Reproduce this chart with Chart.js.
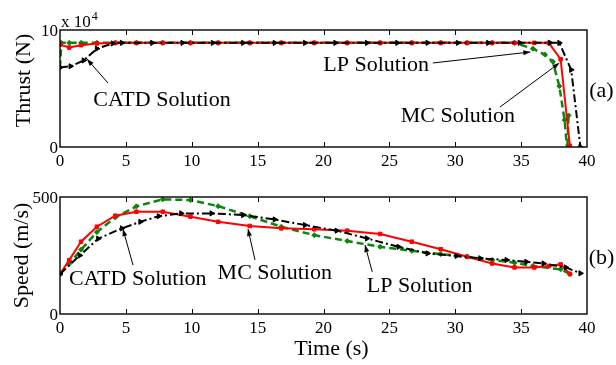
<!DOCTYPE html>
<html>
<head>
<meta charset="utf-8">
<script src="https://cdn.jsdelivr.net/npm/chart.js@4.4.1/dist/chart.umd.min.js"></script>
<style>
  html, body { margin: 0; padding: 0; background: #fff; }
  #wrap { position: relative; width: 616px; height: 365px; }
  canvas { position: absolute; left: 0; }
  #thrust { top: 0; }
  #speed { top: 180px; }
</style>
</head>
<body>
<div id="wrap">
  <canvas id="thrust" width="616" height="180"></canvas>
  <canvas id="speed" width="616" height="185"></canvas>
</div>
<script>
// data
const xTicks = [0, 5, 10, 15, 20, 25, 30, 35, 40];

// MC solution (red)
const mcThrustTime = [0, 0.7, 1.6, 2.8, 4.2, 5.8, 7.8, 9.9, 12.0, 14.4, 16.8, 19.3, 21.8, 24.3, 26.7, 28.9, 30.9, 32.8, 34.5, 36.0, 37.1, 38.0, 38.7];
const mcThrust = [8.75, 8.5, 8.7, 8.85, 8.9, 8.9, 8.9, 8.9, 8.9, 8.9, 8.9, 8.9, 8.9, 8.9, 8.9, 8.9, 8.9, 8.9, 8.9, 8.9, 8.9, 7.5, 0.1];
const mcSpeedTime = [0, 0.7, 1.6, 2.8, 4.2, 5.8, 7.8, 9.9, 12.0, 14.4, 16.8, 19.3, 21.8, 24.3, 26.7, 28.9, 30.9, 32.8, 34.5, 36.0, 37.1, 38.0, 38.7];
const mcSpeed = [171, 230, 309, 373, 420, 437, 437, 416, 394, 376, 366, 362, 356, 342, 309, 277, 245, 216, 199, 199, 205, 212, 171];

// LP solution (green)
const lpThrustTime = [0, 0.1, 0.7, 1.6, 2.8, 4.2, 5.8, 7.8, 9.9, 12.0, 14.4, 16.8, 19.3, 21.8, 24.3, 26.7, 28.9, 30.9, 32.8, 34.5, 35.9, 36.8, 37.4, 37.9, 38.3, 38.5, 38.6];
const lpThrust = [6.8, 8.9, 8.9, 8.9, 8.9, 8.9, 8.9, 8.9, 8.9, 8.9, 8.9, 8.9, 8.9, 8.9, 8.9, 8.9, 8.9, 8.9, 8.9, 8.9, 8.4, 7.9, 7.3, 5.2, 2.3, -0.3, 2.7];
const lpSpeedTime = [0, 0.7, 1.6, 2.8, 4.2, 5.8, 7.8, 9.9, 12.0, 14.4, 16.8, 19.3, 21.8, 24.3, 26.7, 28.9, 30.9, 32.8, 34.5, 35.9, 38.0, 38.7];
const lpSpeed = [171, 215, 275, 350, 413, 460, 490, 487, 461, 418, 373, 337, 312, 287, 270, 256, 245, 231, 219, 205, 191, 171];

// CATD solution (black)
const catdThrustTime = [0, 0.8, 1.8, 2.8, 4.0, 4.7, 7.0, 9.3, 11.6, 13.9, 16.3, 18.6, 20.9, 23.3, 25.6, 27.9, 30.2, 32.5, 34.9, 37.2, 37.9, 38.8, 39.5];
const catdThrust = [6.8, 6.9, 7.4, 8.4, 8.85, 8.9, 8.9, 8.9, 8.9, 8.9, 8.9, 8.9, 8.9, 8.9, 8.9, 8.9, 8.9, 8.9, 8.9, 8.9, 8.9, 6.6, 0];
const catdSpeedTime = [0, 1.5, 2.9, 4.7, 6.1, 7.5, 9.2, 11.5, 13.9, 16.3, 18.6, 21.0, 23.3, 25.7, 27.9, 30.1, 31.9, 33.9, 35.4, 36.7, 38.4, 39.5];
const catdSpeed = [171, 250, 322, 366, 394, 418, 430, 430, 423, 404, 380, 356, 323, 287, 259, 248, 238, 231, 223, 216, 199, 174];

// text callouts, in data units
const thrustNotes = [
  { text: 'CATD Solution', at: [7.74, 4.0], from: [3.64, 5.47], to: [2.05, 7.52] },
  { text: 'LP Solution', at: [24.0, 7.0], from: [28.3, 7.18], to: [35.7, 8.12] },
  { text: 'MC Solution', at: [30.2, 2.65], from: [33.4, 3.42], to: [37.9, 7.18] },
  { text: '(a)', at: [41.1, 4.8] }
];
const speedNotes = [
  { text: 'CATD Solution', at: [5.9, 150], from: [5.54, 209], to: [4.78, 363] },
  { text: 'MC Solution', at: [16.3, 175], from: [14.8, 231], to: [14.27, 363] },
  { text: 'LP Solution', at: [27.3, 120], from: [23.7, 180], to: [23.15, 295] },
  { text: '(b)', at: [41.1, 239] }
];

const serif = '"Liberation Serif", "DejaVu Serif", serif';

function pts(xs, ys) {
  return xs.map((x, i) => ({ x: x, y: ys[i] }));
}

function series(label, data, color, style) {
  return Object.assign({
    label: label,
    data: data,
    showLine: true,
    borderColor: color,
    backgroundColor: color,
    pointBorderColor: color,
    pointBackgroundColor: color,
    borderWidth: 2,
    pointRadius: 2.5,
    pointBorderWidth: 1,
    tension: 0
  }, style);
}

// box + inward ticks (matlab look)
const framePlugin = {
  id: 'frame',
  afterDatasetsDraw(chart) {
    const { ctx, chartArea: a, scales } = chart;
    ctx.save();
    ctx.strokeStyle = '#000';
    ctx.lineWidth = 1.4;
    ctx.strokeRect(a.left, a.top, a.right - a.left, a.bottom - a.top);
    ctx.lineWidth = 1;
    xTicks.slice(1, -1).forEach(t => {
      const px = Math.round(scales.x.getPixelForValue(t)) + 0.5;
      ctx.beginPath();
      ctx.moveTo(px, a.bottom); ctx.lineTo(px, a.bottom - 5);
      ctx.moveTo(px, a.top); ctx.lineTo(px, a.top + 5);
      ctx.stroke();
    });
    ctx.restore();
  }
};

function arrow(ctx, x1, y1, x2, y2) {
  ctx.beginPath();
  ctx.moveTo(x1, y1);
  ctx.lineTo(x2, y2);
  ctx.stroke();
  const ang = Math.atan2(y2 - y1, x2 - x1);
  const len = 7, w = 2.5;
  ctx.beginPath();
  ctx.moveTo(x2, y2);
  ctx.lineTo(x2 - len * Math.cos(ang) + w * Math.sin(ang), y2 - len * Math.sin(ang) - w * Math.cos(ang));
  ctx.lineTo(x2 - len * Math.cos(ang) - w * Math.sin(ang), y2 - len * Math.sin(ang) + w * Math.cos(ang));
  ctx.closePath();
  ctx.fill();
}

function notesPlugin(notes, extra) {
  return {
    id: 'notes',
    afterDraw(chart) {
      const { ctx, scales } = chart;
      const X = v => scales.x.getPixelForValue(v);
      const Y = v => scales.y.getPixelForValue(v);
      ctx.save();
      ctx.fillStyle = '#000';
      ctx.strokeStyle = '#000';
      ctx.lineWidth = 1;
      ctx.font = '22px ' + serif;
      ctx.textAlign = 'center';
      ctx.textBaseline = 'middle';
      notes.forEach(n => {
        ctx.fillText(n.text, X(n.at[0]), Y(n.at[1]));
        if (n.from) arrow(ctx, X(n.from[0]), Y(n.from[1]), X(n.to[0]), Y(n.to[1]));
      });
      extra(ctx, chart.chartArea);
      ctx.restore();
    }
  };
}

function makeChart(id, datasets, yMax, padTop, xHeight, notes, extra) {
  return new Chart(document.getElementById(id), {
    type: 'scatter',
    data: { datasets: datasets },
    options: {
      responsive: false,
      animation: false,
      devicePixelRatio: 1,
      layout: { padding: { top: padTop, right: 29, left: 0, bottom: 0 } },
      plugins: { legend: { display: false }, tooltip: { enabled: false } },
      scales: {
        x: {
          type: 'linear', min: 0, max: 40,
          afterFit: s => { s.height = xHeight; },
          afterBuildTicks: s => { s.ticks = xTicks.map(v => ({ value: v })); },
          grid: { display: false, drawTicks: false },
          border: { display: false },
          ticks: { color: '#000', padding: 4, maxRotation: 0, font: { family: serif, size: 17 } }
        },
        y: {
          type: 'linear', min: 0, max: yMax,
          afterFit: s => { s.width = 60; },
          afterBuildTicks: s => { s.ticks = [{ value: 0 }, { value: yMax }]; },
          grid: { display: false, drawTicks: false },
          border: { display: false },
          ticks: { color: '#000', padding: 2, labelOffset: 2, font: { family: serif, size: 17 } }
        }
      }
    },
    plugins: [framePlugin, notesPlugin(notes, extra)]
  });
}

const catdStyle = { borderDash: [8, 3, 2, 3], pointStyle: 'triangle', rotation: 90, pointRadius: 3 };
const mcStyle = { pointStyle: 'rect', pointRadius: 2.5 };
const lpStyle = { borderDash: [7, 4], borderWidth: 2.5, pointStyle: 'rectRot', pointRadius: 2.5 };

makeChart('thrust', [
  series('CATD Solution', pts(catdThrustTime, catdThrust), '#000000', catdStyle),
  series('MC Solution', pts(mcThrustTime, mcThrust), '#ff0000', mcStyle),
  series('LP Solution', pts(lpThrustTime, lpThrust), '#0a860a', lpStyle)
], 10, 30, 33, thrustNotes, (ctx, a) => {
  ctx.save();
  ctx.translate(a.left - 36, (a.top + a.bottom) / 2 - 8);
  ctx.rotate(-Math.PI / 2);
  ctx.fillText('Thrust (N)', 0, 0);
  ctx.restore();
  ctx.textAlign = 'left';
  ctx.textBaseline = 'alphabetic';
  ctx.font = '17px ' + serif;
  ctx.fillText('x 10', a.left + 1, a.top - 3);
  const w = ctx.measureText('x 10').width;
  ctx.font = '12px ' + serif;
  ctx.fillText('4', a.left + 2 + w, a.top - 10);
});

makeChart('speed', [
  series('CATD Solution', pts(catdSpeedTime, catdSpeed), '#000000', catdStyle),
  series('MC Solution', pts(mcSpeedTime, mcSpeed), '#ff0000', mcStyle),
  series('LP Solution', pts(lpSpeedTime, lpSpeed), '#0a860a', lpStyle)
], 500, 17, 51, speedNotes, (ctx, a) => {
  ctx.save();
  ctx.translate(a.left - 38, (a.top + a.bottom) / 2);
  ctx.rotate(-Math.PI / 2);
  ctx.fillText('Speed (m/s)', 0, 0);
  ctx.restore();
  ctx.fillText('Time (s)', (a.left + a.right) / 2 + 8, a.bottom + 35);
});
</script>
</body>
</html>
